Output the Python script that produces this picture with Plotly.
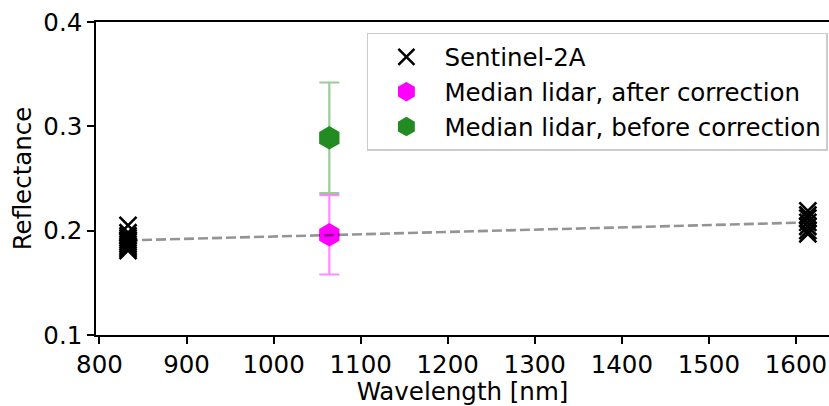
import plotly.graph_objects as go
import numpy as np

# Sentinel-2A band reflectances
s2_wl_b8 = 832.8
s2_wl_b11 = 1613.7
s2_refl_b8 = [0.205, 0.198, 0.195, 0.193, 0.191, 0.189, 0.187, 0.185, 0.183, 0.181]
s2_refl_b11 = [0.219, 0.215, 0.212, 0.208, 0.204, 0.200, 0.197]

# Median lidar (1064 nm)
lidar_wl = [1064]
lidar_after = [0.196]
lidar_after_err = [0.038]
lidar_before = [0.289]
lidar_before_err = [0.053]

x_ticks = [800, 900, 1000, 1100, 1200, 1300, 1400, 1500, 1600]
y_ticks = [0.1, 0.2, 0.3, 0.4]

FONT = "DejaVu Sans"
FS = 24.5

fig = go.Figure()

s2_x = [s2_wl_b8] * len(s2_refl_b8) + [s2_wl_b11] * len(s2_refl_b11)
s2_y = s2_refl_b8 + s2_refl_b11
fig.add_trace(go.Scatter(
    x=s2_x, y=s2_y, mode="markers", name="Sentinel-2A", legendgroup="a",
    marker=dict(symbol="x-thin", size=17, color="black",
                line=dict(color="black", width=2.6)),
))

fig.add_trace(go.Scatter(
    x=lidar_wl, y=lidar_after, mode="markers", name="Median lidar, after correction",
    legendgroup="b",
    marker=dict(symbol="hexagon", size=20, color="#ff00ff",
                line=dict(width=3, color="#ff00ff")),
    error_y=dict(type="data", array=lidar_after_err, visible=True,
                 color="rgba(255,0,255,0.45)", thickness=2.2, width=10),
))

fig.add_trace(go.Scatter(
    x=lidar_wl, y=lidar_before, mode="markers", name="Median lidar, before correction",
    legendgroup="c",
    marker=dict(symbol="hexagon", size=20, color="#228b22",
                line=dict(width=3, color="#228b22")),
    error_y=dict(type="data", array=lidar_before_err, visible=True,
                 color="rgba(34,139,34,0.45)", thickness=2.2, width=10),
))

# Linear line between band means
m8 = float(np.mean(s2_refl_b8))
m11 = float(np.mean(s2_refl_b11))
fig.add_trace(go.Scatter(
    x=[s2_wl_b8, s2_wl_b11], y=[m8, m11], mode="lines", showlegend=False,
    line=dict(color="rgba(0,0,0,0.42)", width=2.6, dash="10px,4px"),
))

fig.update_layout(
    width=829, height=406,
    margin=dict(l=96, r=0, t=22, b=71, autoexpand=False),
    paper_bgcolor="white", plot_bgcolor="white",
    font=dict(family=FONT, size=FS, color="black"),
    showlegend=True,
    legend=dict(
        x=0.9985, y=0.965, xanchor="right", yanchor="top",
        bordercolor="#cccccc", borderwidth=1.5, bgcolor="rgba(255,255,255,0.8)",
        font=dict(family=FONT, size=FS, color="black"),
        itemsizing="trace", itemwidth=66,
        traceorder="grouped", tracegroupgap=0,
    ),
)

fig.update_xaxes(
    range=[796, 1638], tickvals=x_ticks, ticktext=[str(v) for v in x_ticks],
    automargin=False,
    showgrid=False, zeroline=False, showline=True, linecolor="black", linewidth=1.6,
    mirror=True, ticks="outside", ticklen=7, tickwidth=1.6, tickcolor="black",
    title=dict(text="Wavelength [nm]", font=dict(family=FONT, size=FS), standoff=2),
)
fig.update_yaxes(
    range=[0.1, 0.4], tickvals=y_ticks, ticktext=["0.1", "0.2", "0.3", "0.4"],
    automargin=False,
    showgrid=False, zeroline=False, showline=True, linecolor="black", linewidth=1.6,
    mirror=False, ticks="outside", ticklen=7, tickwidth=1.6, tickcolor="black",
    title=dict(text="Reflectance", font=dict(family=FONT, size=FS), standoff=5),
)

fig.write_html("out.html", config={"displayModeBar": False},
               post_script="document.body.style.margin='0';document.body.style.overflow='hidden';")
